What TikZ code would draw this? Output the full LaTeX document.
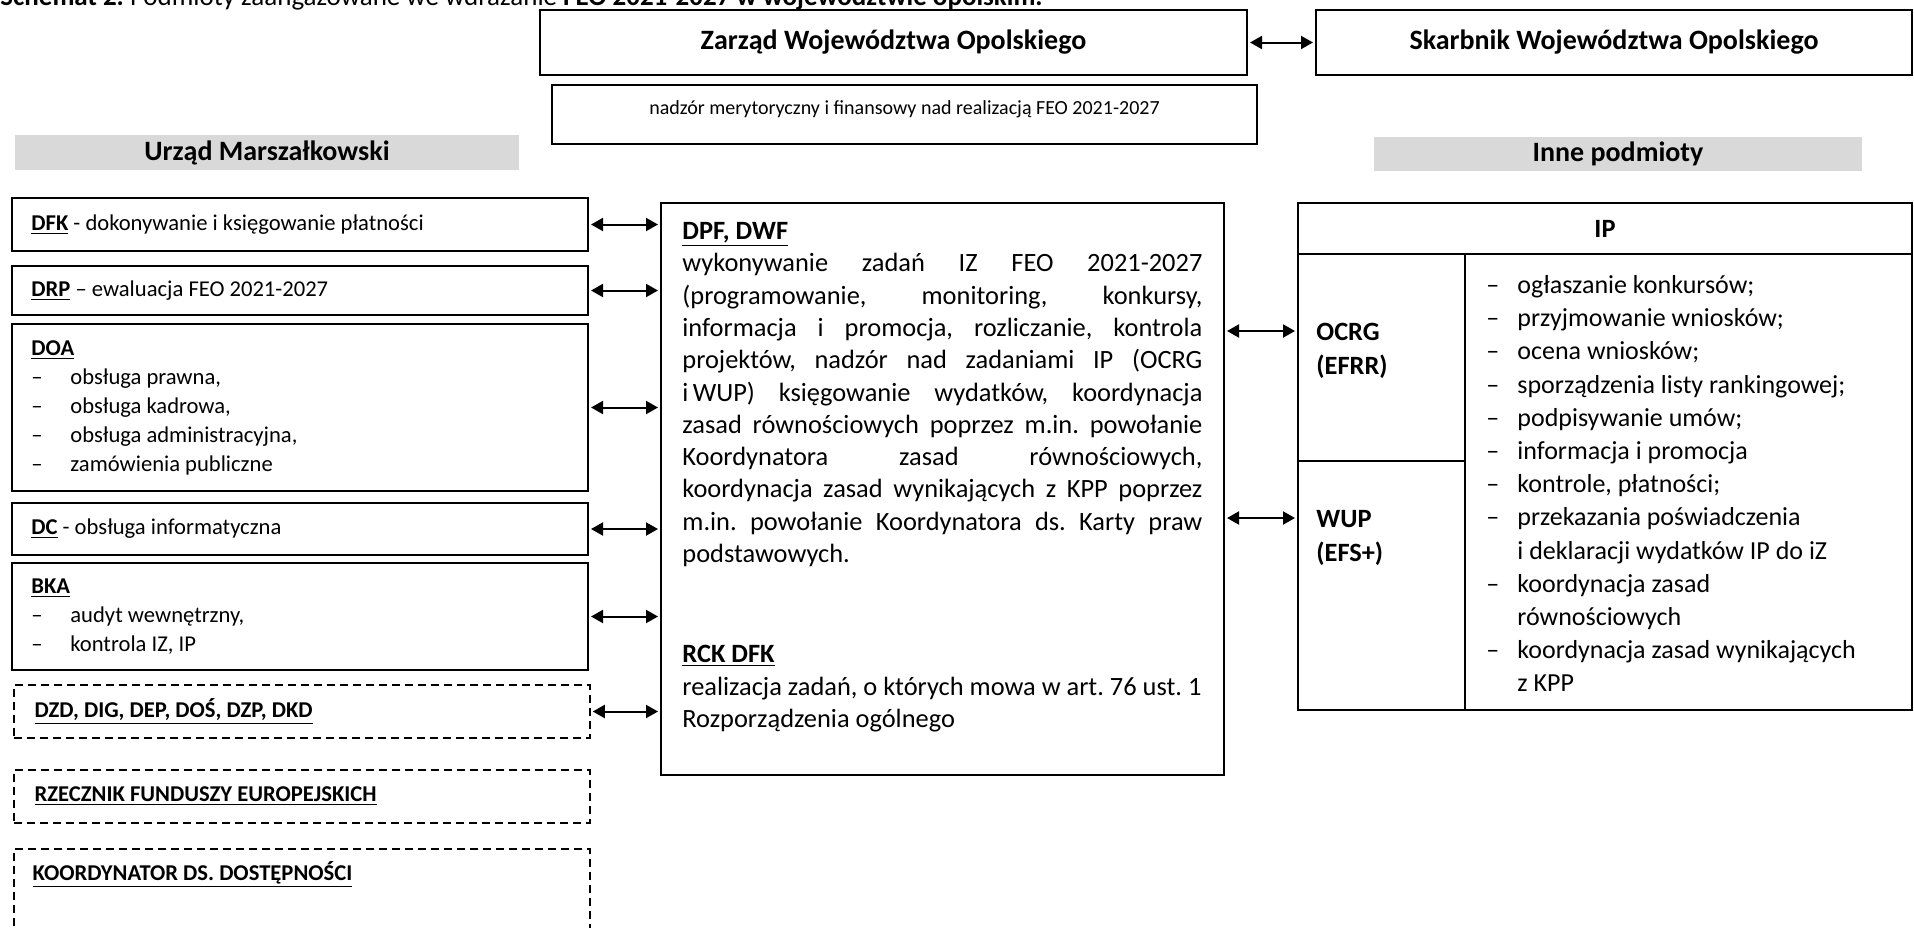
\documentclass[tikz,border=0pt]{standalone}
\usepackage{fontspec}
\setmainfont{Carlito}
\usepackage{tikz}
\usetikzlibrary{positioning}
\usetikzlibrary{arrows.meta}
\usetikzlibrary{fit}
\usetikzlibrary{calc}
\tikzset{>={Triangle[length=6pt,width=6.5pt]}}
\tikzstyle{ubox}=[draw=black,line width=1pt,shape=rectangle,fill=white,inner sep=0pt]
\tikzstyle{dbox}=[draw=black,line width=0.75pt,dash pattern=on 4pt off 2.5pt,shape=rectangle,inner sep=0pt]
\tikzstyle{gbar}=[fill=black!15,shape=rectangle,inner sep=0pt]
\tikzstyle{taro}=[<->,line width=1pt,color=black,shorten <=1pt,shorten >=1pt]
\tikzstyle{ltxt}=[anchor=west,inner sep=0pt,align=left,font=\fontsize{11.3}{14.5}\selectfont]
\tikzstyle{btxt}=[inner sep=0pt,font=\fontsize{14}{17}\selectfont\bfseries]
\newcommand{\dsh}[1]{\makebox[#1][l]{–}}
\newcommand{\ul}[1]{\underline{\textbf{#1}}}
\frenchspacing

\begin{document}
\begin{tikzpicture}[x=0.5pt,y=-0.5pt]
	\useasboundingbox (0,0) rectangle (1914,927);
	\clip (0,0) rectangle (1914,927);
	
	% Caption
	\node[anchor=base west,inner sep=0pt,font=\fontsize{13.5}{16}\selectfont] (capt) at (0,5) {\textbf{Schemat 2.} Podmioty zaangażowane we wdrażanie \textbf{FEO 2021-2027 w województwie opolskim.}};
	
	% Zarzad
	\node[ubox, fit={(540,10) (1247,75)}] (zarz) {};
	\node[btxt] (zarzt) at (zarz.center) {Zarząd Województwa Opolskiego};
	\node[ubox, fit={(1316,10) (1912,75)}] (skarb) {};
	\node[btxt] (skarbt) at (skarb.center) {Skarbnik Województwa Opolskiego};
	\draw[taro] (zarz) -- (skarb);
	\node[ubox, fit={(552,85) (1257,144)}] (nadz) {};
	\node[inner sep=0pt, font=\fontsize{10}{12}\selectfont] (nadzt) at ($(nadz.center)+(0,-5)$) {nadzór merytoryczny i finansowy nad realizacją FEO 2021-2027};
	
	% Headers
	\node[gbar, fit={(15,135) (519,170)}] (um) {};
	\node[btxt] (umt) at (um.center) {Urząd Marszałkowski};
	\node[gbar, fit={(1374,137) (1862,171)}] (inne) {};
	\node[btxt] (innet) at (inne.center) {Inne podmioty};
	
	% Urzad Marszalkowski
	\node[ubox, fit={(12,198) (588,251)}] (dfk) {};
	\node[ltxt] (dfkt) at ($(dfk.west)+(20,0)$) {\ul{DFK} - dokonywanie i księgowanie płatności};
	\node[ubox, fit={(12,266) (588,315)}] (drp) {};
	\node[ltxt] (drpt) at ($(drp.west)+(20,0)$) {\ul{DRP} – ewaluacja FEO 2021-2027};
	\node[ubox, fit={(12,324) (588,491)}] (doa) {};
	\node[ltxt] (doat) at ($(doa.west)+(20,0)$) {\ul{DOA}\\ \dsh{19.5pt}obsługa prawna,\\ \dsh{19.5pt}obsługa kadrowa,\\ \dsh{19.5pt}obsługa administracyjna,\\ \dsh{19.5pt}zamówienia publiczne};
	\node[ubox, fit={(12,503) (588,555)}] (dc) {};
	\node[ltxt] (dct) at ($(dc.west)+(20,0)$) {\ul{DC} - obsługa informatyczna};
	\node[ubox, fit={(12,563) (588,670)}] (bka) {};
	\node[ltxt] (bkat) at ($(bka.west)+(20,0)$) {\ul{BKA}\\ \dsh{19.5pt}audyt wewnętrzny,\\ \dsh{19.5pt}kontrola IZ, IP};
	\node[dbox, fit={(14,685) (590,738)}] (dzd) {};
	\node[ltxt] (dzdt) at ($(dzd.west)+(21,0)$) {\ul{DZD, DIG, DEP, DOŚ, DZP, DKD}};
	\node[dbox, fit={(14,770) (590,823)}] (rfe) {};
	\node[ltxt] (rfet) at ($(rfe.west)+(21,0)$) {\ul{RZECZNIK FUNDUSZY EUROPEJSKICH}};
	\node[dbox, fit={(14,849) (590,980)}] (kdd) {};
	\node[ltxt, anchor=base west] (kddt) at ($(kdd.north west)+(19,32)$) {\ul{KOORDYNATOR DS. DOSTĘPNOŚCI}};
	
	% DPF, DWF
	\node[ubox, fit={(661,203) (1224,775)}] (dpf) {};
	\node[anchor=north west, inner sep=0pt, text width=260pt, align=justify, font=\fontsize{13.2}{16.15}\selectfont] (dpft) at ($(dpf.north west)+(22,20)$) {\ul{DPF, DWF}\\
		wykonywanie zadań IZ FEO 2021-2027\linebreak
		(programowanie, monitoring, konkursy,\linebreak
		informacja i promocja, rozliczanie, kontrola\linebreak
		projektów, nadzór nad zadaniami IP (OCRG\linebreak
		i\,WUP) księgowanie wydatków, koordynacja\linebreak
		zasad równościowych poprzez m.in. powołanie\linebreak
		Koordynatora zasad równościowych,\linebreak
		koordynacja zasad wynikających z KPP poprzez\linebreak
		m.in. powołanie Koordynatora ds. Karty praw\linebreak
		podstawowych.};
	\node[anchor=north west, inner sep=0pt, align=left, font=\fontsize{13.2}{16.15}\selectfont] (rckt) at ($(dpf.north west)+(22,443)$) {\ul{RCK DFK}\\ realizacja zadań, o których mowa w art. 76 ust. 1\\ Rozporządzenia ogólnego};
	\foreach \b in {dfk,drp,doa,dc,bka,dzd}
		\draw[taro] (\b.east) -- (\b.east -| dpf.west);
	
	% IP
	\node[ubox, fit={(1298,203) (1912,254)}] (ip) {};
	\node[btxt, font=\fontsize{13.2}{16}\selectfont\bfseries] (ipt) at (ip.center) {IP};
	\node[ubox, fit={(1298,254) (1465,461)}] (ocrg) {};
	\node[ubox, fit={(1298,461) (1465,710)}] (wup) {};
	\node[ubox, fit={(1465,254) (1912,710)}] (lst) {};
	\node[anchor=north west, inner sep=0pt, align=left, font=\fontsize{13.2}{17}\selectfont\bfseries] (ocrgt) at ($(ocrg.north west)+(19,70)$) {OCRG\\(EFRR)};
	\node[anchor=north west, inner sep=0pt, align=left, font=\fontsize{13.2}{17}\selectfont\bfseries] (wupt) at ($(wup.north west)+(19,50)$) {WUP\\(EFS+)};
	\coordinate (ocrgin) at ($(ocrg.north west)+(0,78)$);
	\coordinate (wupin) at ($(wup.north west)+(0,58)$);
	\draw[taro] (dpf.east |- ocrgin) -- (ocrgin);
	\draw[taro] (dpf.east |- wupin) -- (wupin);
	\node[anchor=north west, inner sep=0pt, align=left, font=\fontsize{13}{16.6}\selectfont] (lstt) at ($(lst.north west)+(22,22)$) {\dsh{15.5pt}ogłaszanie konkursów;\\
		\dsh{15.5pt}przyjmowanie wniosków;\\
		\dsh{15.5pt}ocena wniosków;\\
		\dsh{15.5pt}sporządzenia listy rankingowej;\\
		\dsh{15.5pt}podpisywanie umów;\\
		\dsh{15.5pt}informacja i promocja\\
		\dsh{15.5pt}kontrole, płatności;\\
		\dsh{15.5pt}przekazania poświadczenia\\
		\hspace*{15.5pt}i deklaracji wydatków IP do iZ\\
		\dsh{15.5pt}koordynacja zasad\\
		\hspace*{15.5pt}równościowych\\
		\dsh{15.5pt}koordynacja zasad wynikających\\
		\hspace*{15.5pt}z KPP};
	
\end{tikzpicture}
\end{document}
